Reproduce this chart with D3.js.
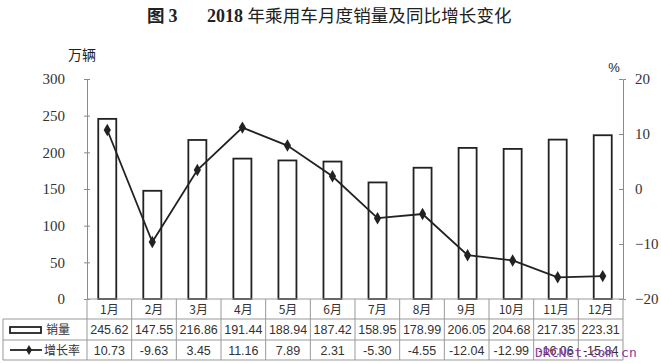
<!DOCTYPE html>
<html>
<head>
<meta charset="utf-8">
<script src="https://cdn.jsdelivr.net/npm/d3@7"></script>
<style>
  body { margin: 0; background: #fff; }
  svg { display: block; }
</style>
</head>
<body>
<div id="chart"></div>
<script>
// 月份、销量(万辆)、同比增长率(%)
var months = ['1月', '2月', '3月', '4月', '5月', '6月', '7月', '8月', '9月', '10月', '11月', '12月'];
var sales = [245.62, 147.55, 216.86, 191.44, 188.94, 187.42, 158.95, 178.99, 206.05, 204.68, 217.35, 223.31];
var growth = [10.73, -9.63, 3.45, 11.16, 7.89, 2.31, -5.30, -4.55, -12.04, -12.99, -16.06, -15.84];
var leftTicks = [0, 50, 100, 150, 200, 250, 300];
var rightTicks = [-20, -10, 0, 10, 20];

var width = 661,
    height = 363,
    plotLeft = 87, plotRight = 623,
    plotTop = 79, plotBottom = 299;

var ink = '#222';
var axisColor = '#8a8a8a';
var serif = '"Liberation Serif", "DejaVu Serif", serif';
var sans = '"Liberation Sans", Arial, sans-serif';
var cjk = '"Noto Sans CJK SC", sans-serif';

var svg = d3.select('#chart').append('svg')
    .attr('width', width)
    .attr('height', height);

// 标题
var title = svg.append('text')
    .attr('y', 22)
    .attr('font-size', 17.5)
    .attr('font-weight', 'bold')
    .attr('fill', ink);
title.append('tspan').attr('x', 147).attr('font-family', cjk).text('图 ');
title.append('tspan').attr('font-family', serif).attr('font-size', 18).text('3');
title.append('tspan').attr('x', 207).attr('font-family', serif).attr('font-size', 18).text('2018 ');
title.append('tspan').attr('font-family', cjk).attr('font-weight', 'normal')
    .attr('textLength', 264).text('年乘用车月度销量及同比增长变化');

// 比例尺
var x = d3.scaleBand().domain(months).range([plotLeft, plotRight]).paddingInner(0.6).paddingOuter(0.25);
var yL = d3.scaleLinear().domain([0, 300]).range([plotBottom, plotTop]);
var yR = d3.scaleLinear().domain([-20, 20]).range([plotBottom, plotTop]);
var step = (plotRight - plotLeft) / months.length;

// 左轴
var gl = svg.append('g').attr('transform', 'translate(' + plotLeft + ',0)')
    .call(d3.axisLeft(yL).tickValues(leftTicks).tickSize(3).tickPadding(19));
gl.select('.domain').attr('stroke', axisColor);
gl.selectAll('.tick line').attr('stroke', axisColor).attr('x2', 3).attr('x1', -3);
gl.selectAll('.tick text').attr('font-family', serif).attr('font-size', 15).attr('fill', '#333');

// 右轴
var gr = svg.append('g').attr('transform', 'translate(' + plotRight + ',0)')
    .call(d3.axisRight(yR).tickValues(rightTicks).tickSize(3).tickPadding(9)
        .tickFormat(function (d) { return d < 0 ? '\u2212' + Math.abs(d) : d; }));
gr.select('.domain').attr('stroke', axisColor);
gr.selectAll('.tick line').attr('stroke', axisColor).attr('x2', -4);
gr.selectAll('.tick text').attr('font-family', serif).attr('font-size', 15).attr('fill', '#333');

svg.append('text').attr('x', 82).attr('y', 60).attr('text-anchor', 'middle')
    .attr('font-family', cjk).attr('font-size', 14).attr('fill', ink).text('万辆');
svg.append('text').attr('x', 614).attr('y', 72).attr('text-anchor', 'middle')
    .attr('font-family', sans).attr('font-size', 13).attr('fill', ink).text('%');

// 柱
svg.selectAll('rect.bar').data(sales).enter().append('rect')
    .attr('class', 'bar')
    .attr('x', function (d, i) { return x(months[i]); })
    .attr('y', function (d) { return yL(d); })
    .attr('width', x.bandwidth())
    .attr('height', function (d) { return plotBottom - yL(d); })
    .attr('fill', '#fff')
    .attr('stroke', ink)
    .attr('stroke-width', 1.8);

// 折线
var line = d3.line()
    .x(function (d, i) { return x(months[i]) + x.bandwidth() / 2; })
    .y(function (d) { return yR(d); });
svg.append('path').datum(growth)
    .attr('d', line)
    .attr('fill', 'none')
    .attr('stroke', ink)
    .attr('stroke-width', 1.8);
svg.selectAll('path.pt').data(growth).enter().append('path')
    .attr('class', 'pt')
    .attr('d', d3.symbol().type(d3.symbolDiamond).size(45))
    .attr('transform', function (d, i) {
        return 'translate(' + (x(months[i]) + x.bandwidth() / 2) + ',' + yR(d) + ')';
    })
    .attr('fill', ink);

// 数据表
var rowY = [299, 319, 340, 360];
var tbl = svg.append('g').attr('stroke', '#999').attr('stroke-width', 1).attr('fill', 'none');
tbl.append('line').attr('x1', plotLeft).attr('x2', plotRight).attr('y1', rowY[0]).attr('y2', rowY[0]);
tbl.selectAll('line.h').data(rowY.slice(1)).enter().append('line')
    .attr('x1', 3).attr('x2', plotRight)
    .attr('y1', function (d) { return d; }).attr('y2', function (d) { return d; });
tbl.append('line').attr('x1', 3).attr('x2', 3).attr('y1', rowY[1]).attr('y2', rowY[3]);
tbl.selectAll('line.v').data(d3.range(months.length + 1)).enter().append('line')
    .attr('x1', function (i) { return plotLeft + i * step; })
    .attr('x2', function (i) { return plotLeft + i * step; })
    .attr('y1', rowY[0]).attr('y2', rowY[3]);

function cellText(arr, row, fmt, size) {
    svg.append('g').selectAll('text').data(arr).enter().append('text')
        .attr('x', function (d, i) { return plotLeft + (i + 0.5) * step; })
        .attr('y', (rowY[row] + rowY[row + 1]) / 2 + 4.5)
        .attr('text-anchor', 'middle')
        .attr('font-family', row === 0 ? cjk : sans)
        .attr('font-size', size)
        .attr('fill', '#333')
        .text(fmt);
}
cellText(months, 0, function (d) { return d; }, 12);
cellText(sales, 1, function (d) { return d.toFixed(2); }, 12.5);
cellText(growth, 2, function (d) { return d.toFixed(2); }, 12.5);

// 图例
svg.append('rect').attr('x', 10).attr('y', 327).attr('width', 31).attr('height', 6)
    .attr('fill', '#fff').attr('stroke', ink).attr('stroke-width', 1.8);
svg.append('text').attr('x', 46).attr('y', 334).attr('font-family', cjk).attr('font-size', 12)
    .attr('fill', '#333').text('销量');
svg.append('line').attr('x1', 10).attr('x2', 42).attr('y1', 350).attr('y2', 350)
    .attr('stroke', ink).attr('stroke-width', 1.8);
svg.append('path').attr('d', d3.symbol().type(d3.symbolDiamond).size(30))
    .attr('transform', 'translate(29,350)').attr('fill', ink);
svg.append('text').attr('x', 44).attr('y', 355).attr('font-family', cjk).attr('font-size', 12)
    .attr('fill', '#333').text('增长率');

// 水印
svg.append('text').attr('x', 535).attr('y', 357)
    .attr('font-family', '"DejaVu Sans Mono", monospace').attr('font-size', 13)
    .attr('fill', '#8a3aa0').text('DRCNet.com.cn');
</script>
</body>
</html>
